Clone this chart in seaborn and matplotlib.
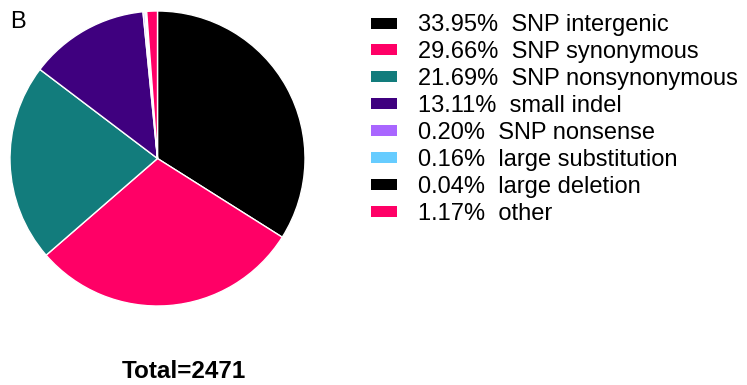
import matplotlib
matplotlib.use("Agg")
import matplotlib.pyplot as plt
import seaborn as sns
from matplotlib.patches import Patch

sns.set_theme(style="white")
plt.rcParams['font.family'] = ['Liberation Sans', 'DejaVu Sans']
plt.rcParams['text.color'] = 'black'

categories = ["SNP intergenic", "SNP synonymous", "SNP nonsynonymous", "small indel",
              "SNP nonsense", "large substitution", "large deletion", "other"]
percents = [33.95, 29.66, 21.69, 13.11, 0.20, 0.16, 0.04, 1.17]
colors = ["#000000", "#FF0066", "#127C7C", "#3F007F", "#A966FF", "#66CCFF", "#000000", "#FF0066"]
total_label = "Total=2471"
panel_label = "B"

W, H = 747, 385
fig = plt.figure(figsize=(W / 100, H / 100), dpi=100)

ax = fig.add_axes([10 / W, (H - 306) / H, 295 / W, 295 / H])
wedges, _ = ax.pie(percents, colors=colors, startangle=90, counterclock=False,
                   wedgeprops=dict(edgecolor="white", linewidth=1))
ax.set_xlim(-1, 1)
ax.set_ylim(-1, 1)
ax.set_aspect("equal")

fs = 17
handles = [Patch(facecolor=c, edgecolor="none") for c in colors]
labels = [f"{p:.2f}%  {c}" for p, c in zip(percents, categories)]
leg = fig.legend(handles, labels, loc="upper left", bbox_to_anchor=(371 / W, 1 - 14.5 / H),
                 frameon=False, fontsize=fs, handlelength=1.1, handleheight=0.34,
                 labelspacing=0.21, handletextpad=0.9, borderaxespad=0, borderpad=0)
for t in leg.get_texts():
    t.set_color("black")

fig.text(10 / W, 1 - 22 / H, panel_label, fontsize=17, va="center", ha="left", color="black")
fig.text(184 / W, 1 - 372 / H, total_label, fontsize=17.5, fontweight="bold",
         va="center", ha="center", color="black")

fig.savefig("out.png", dpi=100)
